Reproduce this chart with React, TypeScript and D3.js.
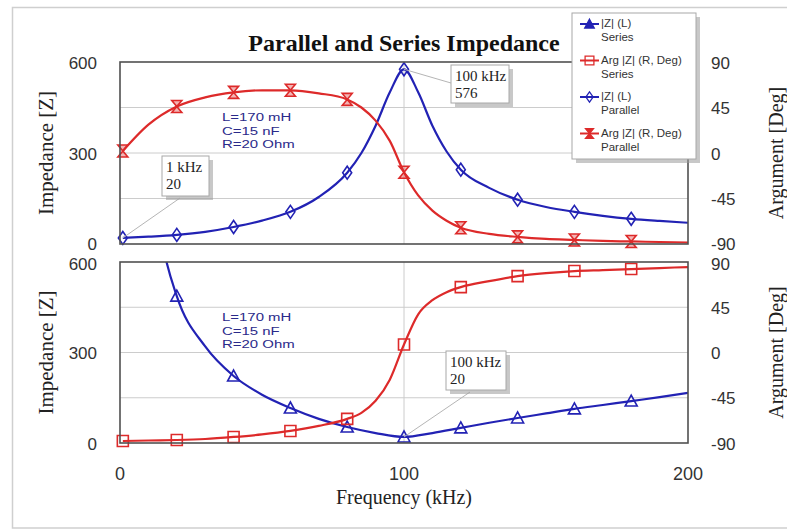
import React from 'react';
import * as d3 from 'd3';

// ---------- data ----------
const freqs = [1, 10, 20, 30, 40, 50, 60, 70, 80, 85, 90, 95, 100, 105, 110, 115, 120, 130, 140, 150, 160, 170, 180, 190, 200];
const parallelMag = [20, 24, 30, 40, 56, 77, 106, 155, 235, 300, 390, 500, 576, 500, 390, 305, 245, 185, 146, 122, 106, 93, 83, 76, 70];
const parallelArg = [2, 28, 46, 55, 60, 62, 62, 59, 53, 45, 32, 12, -19, -42, -57, -67, -74, -80, -83, -85, -86, -87, -87.5, -88, -88.5];
const seriesArg = [-88, -87.5, -87, -86, -84, -81.5, -78, -73, -66, -60, -48, -27, 8, 38, 52, 60, 65, 71, 76, 79, 81, 82, 83, 84, 85];
const seriesMagFreqs = [10, 15, 20, 30, 40, 50, 60, 70, 80, 90, 100, 110, 120, 130, 140, 150, 160, 170, 180, 190, 200];
const seriesMag = [1000, 660, 487, 320, 222, 160, 116, 80, 53, 33, 20, 33, 50, 67, 83, 98, 113, 126, 139, 152, 166];
const markerFreqs = [1, 20, 40, 60, 80, 100, 120, 140, 160, 180];

const xTicks = [0, 100, 200];
const magTicks = [0, 300, 600];
const magGrid = [150, 300, 450];
const argTicks = [-90, -45, 0, 45, 90];
const xGrid = [100];

const legendItems = [
  { l1: '|Z| (L)', l2: 'Series', color: 'blue', marker: 'triangle' },
  { l1: 'Arg |Z| (R, Deg)', l2: 'Series', color: 'red', marker: 'square' },
  { l1: '|Z| (L)', l2: 'Parallel', color: 'blue', marker: 'diamond' },
  { l1: 'Arg |Z| (R, Deg)', l2: 'Parallel', color: 'red', marker: 'bowtie' },
];
const paramLines = ['L=170 mH', 'C=15 nF', 'R=20 Ohm'];
const callouts = [
  { panel: 0, freq: 1, value: 20, l1: '1 kHz', l2: '20' },
  { panel: 0, freq: 100, value: 576, l1: '100 kHz', l2: '576' },
  { panel: 1, freq: 100, value: 20, l1: '100 kHz', l2: '20' },
];
// layout of the callout boxes (not data)
const calloutLayout = [
  { bx: 162, by: 156, bw: 47, bh: 40, ax: 180, ay: 198 },
  { bx: 451, by: 65, bw: 58, bh: 38, ax: 451, ay: 83 },
  { bx: 446, by: 351, bw: 60, bh: 39, ax: 470, ay: 392 },
];

// ---------- styling ----------
const BLUE = '#2222b4';
const RED = '#dd2a2a';
const GRID = '#cccccc';
const SANS = '"Liberation Sans", Arial, sans-serif';
const SERIF = '"Liberation Serif", "Times New Roman", serif';

const W = 787, H = 530;
const X0 = 120, X1 = 688;
const panels = [
  { top: 62, bottom: 244 },
  { top: 262, bottom: 443 },
];

const markerPath: Record<string, string> = {
  triangle: 'M0,-6 L6,5 L-6,5 Z',
  square: 'M-5.5,-5.5 h11 v11 h-11 Z',
  diamond: 'M0,-6.5 L4.5,0 L0,6.5 L-4.5,0 Z',
  bowtie: 'M-5,-6 L5,-6 L-5,6 L5,6 Z',
};

export default function App() {
  const x = d3.scaleLinear().domain([0, 200]).range([X0, X1]);
  const yMag = panels.map(p => d3.scaleLinear().domain([0, 600]).range([p.bottom, p.top]));
  const yArg = panels.map(p => d3.scaleLinear().domain([-90, 90]).range([p.bottom, p.top]));

  const mk = (xs: number[], ys: number[]) => xs.map((f, i) => [f, ys[i]] as [number, number]);
  const series = [
    { panel: 0, data: mk(freqs, parallelMag), y: yMag[0], color: BLUE, marker: 'diamond' },
    { panel: 0, data: mk(freqs, parallelArg), y: yArg[0], color: RED, marker: 'bowtie' },
    { panel: 1, data: mk(seriesMagFreqs, seriesMag), y: yMag[1], color: BLUE, marker: 'triangle' },
    { panel: 1, data: mk(freqs, seriesArg), y: yArg[1], color: RED, marker: 'square' },
  ];

  // small nudges so the labels where the two panels meet do not collide
  const nudge = (panel: number, isMin: boolean, isMax: boolean) =>
    panel === 0 && isMin ? -0.5 : panel === 1 && isMax ? 1.5 : 0.5;

  return (
    <svg width={W} height={H} style={{ position: 'absolute', left: 0, top: 0, background: '#fff' }}>
      <defs>
        {panels.map((p, i) => (
          <clipPath id={`clip${i}`} key={i}>
            <rect x={X0 - 8} y={p.top} width={X1 - X0 + 8} height={p.bottom - p.top + 8} />
          </clipPath>
        ))}
      </defs>
      <rect x={12.5} y={7.5} width={800} height={520.5} fill="#fff" stroke="#cfcfcf" strokeWidth={1.5} />

      <text x={404} y={51} textAnchor="middle" fontFamily={SERIF} fontWeight="bold" fontSize={24} fill="#111">
        Parallel and Series Impedance
      </text>

      {panels.map((p, i) => (
        <g key={i}>
          {magGrid.map(v => (
            <line key={v} x1={X0} x2={X1} y1={yMag[i](v)} y2={yMag[i](v)} stroke={GRID} strokeWidth={1} />
          ))}
          {xGrid.map(v => (
            <line key={v} x1={x(v)} x2={x(v)} y1={p.top} y2={p.bottom} stroke={GRID} strokeWidth={1} />
          ))}
          {magTicks.map((v, k) => (
            <text key={v} x={97} y={yMag[i](v) + nudge(i, k === 0, k === magTicks.length - 1)} dy="0.36em" textAnchor="end" fontFamily={SANS} fontSize={17} fill="#333">{v}</text>
          ))}
          {argTicks.map((v, k) => (
            <text key={v} x={711} y={yArg[i](v) + nudge(i, k === 0, k === argTicks.length - 1)} dy="0.36em" textAnchor="start" fontFamily={SANS} fontSize={17} fill="#333">{v}</text>
          ))}
          <text transform={`translate(46,${(p.top + p.bottom) / 2}) rotate(-90)`} textAnchor="middle" dy="0.35em" fontFamily={SERIF} fontSize={21} fill="#222">
            Impedance [Z]
          </text>
          <text transform={`translate(776,${(p.top + p.bottom) / 2}) rotate(-90)`} textAnchor="middle" dy="0.35em" fontFamily={SERIF} fontSize={20} fill="#222">
            Argument [Deg]
          </text>
          <g fontFamily={SANS} fontSize={11.5} fill="#2a2a8a">
            {paramLines.map((t, j) => (
              <text key={j} transform={`translate(222,${p.top + 59 + j * 13.5}) scale(1.3,1)`}>{t}</text>
            ))}
          </g>
        </g>
      ))}

      {series.map((s, i) => {
        const line = d3.line<[number, number]>().x(d => x(d[0])).y(d => s.y(d[1])).curve(d3.curveMonotoneX);
        const pts = s.data.filter(d => markerFreqs.includes(d[0]));
        return (
          <g key={i} clipPath={`url(#clip${s.panel})`}>
            <path d={line(s.data) || ''} fill="none" stroke={s.color} strokeWidth={2.2} />
            {pts.map((d, j) => (
              <path key={j} d={markerPath[s.marker]} transform={`translate(${x(d[0])},${s.y(d[1])})`}
                fill={s.marker === 'bowtie' ? 'rgba(221,42,42,0.35)' : 'none'} stroke={s.color} strokeWidth={1.6} />
            ))}
          </g>
        );
      })}

      {panels.map((p, i) => (
        <rect key={i} x={X0} y={p.top} width={X1 - X0} height={p.bottom - p.top} fill="none" stroke="#505050" strokeWidth={1.6} />
      ))}

      {xTicks.map(v => (
        <text key={v} x={x(v)} y={480} textAnchor="middle" fontFamily={SANS} fontSize={18} fill="#333">{v}</text>
      ))}
      <text x={404} y={504} textAnchor="middle" fontFamily={SERIF} fontSize={20} fill="#222">Frequency (kHz)</text>

      {callouts.map((c, i) => {
        const L = calloutLayout[i];
        const px = x(c.freq), py = yMag[c.panel](c.value);
        return (
          <g key={i}>
            <line x1={L.ax} y1={L.ay} x2={px} y2={py} stroke="#b5b5b5" strokeWidth={1} />
            <rect x={L.bx + 4} y={L.by + 4} width={L.bw} height={L.bh} fill="#9a9a9a" opacity={0.55} />
            <rect x={L.bx} y={L.by} width={L.bw} height={L.bh} fill="#fff" stroke="#a8a8a8" strokeWidth={1} />
            <text x={L.bx + 4} y={L.by + 16} fontFamily={SERIF} fontSize={15} fill="#222">{c.l1}</text>
            <text x={L.bx + 4} y={L.by + 33} fontFamily={SERIF} fontSize={15} fill="#222">{c.l2}</text>
          </g>
        );
      })}

      <g>
        <rect x={576} y={17} width={124} height={146} fill="#9a9a9a" opacity={0.55} />
        <rect x={572} y={13} width={124} height={146} fill="#fff" stroke="#a8a8a8" strokeWidth={1} />
        {legendItems.map((it, i) => {
          const yy = 24 + i * 36.5;
          const col = it.color === 'blue' ? BLUE : RED;
          return (
            <g key={i}>
              <line x1={580} x2={599} y1={yy} y2={yy} stroke={col} strokeWidth={2} />
              <path d={markerPath[it.marker]} transform={`translate(589.5,${yy}) scale(0.8)`}
                fill={it.marker === 'triangle' || it.marker === 'bowtie' ? col : 'none'} stroke={col} strokeWidth={1.6} />
              <text x={601} y={yy + 3} fontFamily={SANS} fontSize={11.5} fill="#333">{it.l1}</text>
              <text x={601} y={yy + 17} fontFamily={SANS} fontSize={11.5} fill="#333">{it.l2}</text>
            </g>
          );
        })}
      </g>
    </svg>
  );
}
